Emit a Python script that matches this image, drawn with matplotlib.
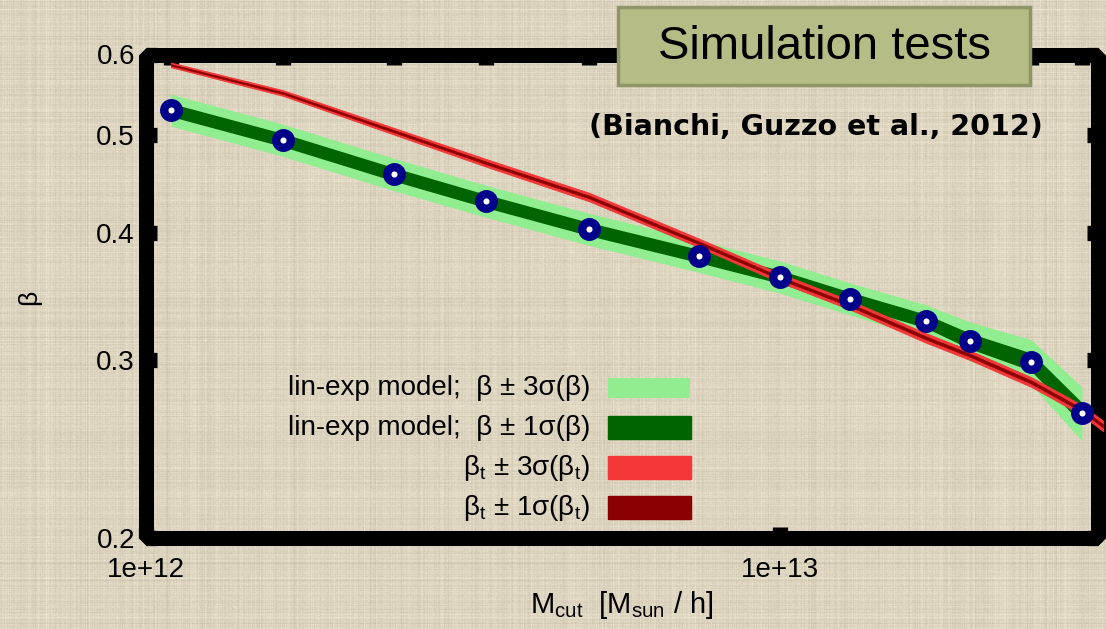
import numpy as np
import matplotlib
matplotlib.use("Agg")
import matplotlib.pyplot as plt
from matplotlib.patches import Rectangle, FancyBboxPatch
from matplotlib.ticker import FixedLocator, FixedFormatter, NullLocator

plt.rcParams['font.family'] = ['Liberation Sans', 'DejaVu Sans']
plt.rcParams['mathtext.default'] = 'regular'

# halo mass cuts [M_sun/h] and measured growth-rate parameter beta
m_cut = np.array([1.095, 1.645, 2.46, 3.44, 5.0, 7.45, 10.0, 12.9, 17.0, 19.9, 24.9, 29.9]) * 1e12
beta = np.array([0.529, 0.494, 0.457, 0.430, 0.4035, 0.3795, 0.362, 0.3444, 0.3273, 0.313, 0.2984, 0.2656])
sigma = np.array([0.0064, 0.0060, 0.0056, 0.0052, 0.0049, 0.0046, 0.0044, 0.0042, 0.0041, 0.0046, 0.0051, 0.0054])

# theoretical beta_t
m_cut_t = np.array([1.095, 1.645, 2.46, 3.44, 5.0, 7.45, 10.0, 12.9, 17.0, 19.9, 24.9, 29.9, 32.3]) * 1e12
beta_t = np.array([0.586, 0.5497, 0.504, 0.469, 0.434, 0.391, 0.361, 0.3395, 0.315, 0.303, 0.285, 0.2675, 0.258])
sigma_t = np.array([0.00102, 0.00116, 0.00126, 0.00135, 0.00138, 0.00127, 0.00120, 0.00116,
                    0.00112, 0.00108, 0.00104, 0.00101, 0.00101])

y_ticks = [0.2, 0.3, 0.4, 0.5, 0.6]
x_ticks = [1e12, 1e13]
x_labels = ['1e+12', '1e+13']

legend_labels = ['lin-exp model;  β ± 3σ(β)',
                 'lin-exp model;  β ± 1σ(β)',
                 'β$_t$ ± 3σ(β$_t$)',
                 'β$_t$ ± 1σ(β$_t$)']
legend_colors = ['#90ee90', '#006400', '#f23838', '#8b0000']

W, H = 1106, 629
fig = plt.figure(figsize=(W / 100, H / 100), dpi=100)
fig.patch.set_facecolor('#dcd3bd')

# canvas-like paper texture behind everything
rng = np.random.default_rng(3)
rows = rng.normal(0, 1, (H, 1)) * 0.5
cols = rng.normal(0, 1, (1, W)) * 0.5
grain = rng.normal(0, 1, (H, W)) * 0.35
tex = rows + cols + grain
base = np.array([221, 212, 191]) / 255.0
img = np.clip(base[None, None, :] + tex[:, :, None] * 0.028, 0, 1)
bgax = fig.add_axes([0, 0, 1, 1], zorder=-10)
bgax.imshow(img, aspect='auto', interpolation='bilinear')
bgax.axis('off')

ax = fig.add_axes([146 / W, 91 / H, 952 / W, 483.5 / H])
ax.patch.set_alpha(0)
ax.set_xscale('log')
ax.set_yscale('log')
ax.set_xlim(1e12, 3.17e13)
ax.set_ylim(0.2, 0.6)

# bands for the lin-exp model
ax.fill_between(m_cut, beta - 3 * sigma, beta + 3 * sigma, color=legend_colors[0], lw=0, zorder=3)
ax.fill_between(m_cut, beta - sigma, beta + sigma, facecolor=legend_colors[1],
                edgecolor=legend_colors[1], lw=1.8, zorder=4)

# theory band
ax.fill_between(m_cut_t, beta_t - 3 * sigma_t, beta_t + 3 * sigma_t, facecolor=legend_colors[2],
                edgecolor=legend_colors[2], lw=0.7, zorder=5, clip_on=False)
ax.fill_between(m_cut_t, beta_t - sigma_t, beta_t + sigma_t, facecolor=legend_colors[3],
                edgecolor=legend_colors[3], lw=0.4, zorder=6, clip_on=False)

ax.plot(m_cut, beta, 'o', ms=10.5, mfc='white', mec='#00008b', mew=6.0, zorder=7)

# heavy frame with bevelled corners
for s in ax.spines.values():
    s.set_visible(False)
ax.add_patch(Rectangle((0, 0), 1, 1, transform=ax.transAxes, fill=False,
                       ec='black', lw=10.8, joinstyle='bevel', clip_on=False, zorder=2.5))

ax.xaxis.set_major_locator(FixedLocator(x_ticks))
ax.xaxis.set_major_formatter(FixedFormatter(x_labels))
ax.xaxis.set_minor_locator(NullLocator())
ax.yaxis.set_major_locator(FixedLocator(y_ticks))
ax.yaxis.set_major_formatter(FixedFormatter([f'{v:.1f}' for v in y_ticks]))
ax.yaxis.set_minor_locator(NullLocator())
ax.tick_params(which='major', direction='in', length=8, width=11, color='black',
               labelsize=20, left=True, right=True, bottom=True, top=False)
ax.tick_params(axis='y', pad=8)
ax.tick_params(axis='x', pad=14)

top = ax.secondary_xaxis('top')
top.set_xticks(m_cut)
top.set_xticklabels([])
top.xaxis.set_minor_locator(NullLocator())
top.tick_params(direction='in', length=8, width=11, color='black')
for s in top.spines.values():
    s.set_visible(False)

fig.text(29 / W, 1 - 297 / H, 'β', rotation=90, fontsize=19, ha='center', va='center')
fig.text(622 / W, 1 - 605 / H, 'M$_{cut}$  [M$_{sun}$ / h]', fontsize=21, ha='center', va='center')

# legend drawn as labels and swatches
row_y = [388, 428, 468, 508]
for i, (lab, col) in enumerate(zip(legend_labels, legend_colors)):
    yc = 1 - row_y[i] / H
    fig.text(590 / W, yc, lab, fontsize=20, ha='right', va='center')
    if i == 0:
        patch = Rectangle((608 / W, yc - 10 / H), 82 / W, 20 / H, transform=fig.transFigure,
                          fc=col, ec='none')
    else:
        patch = FancyBboxPatch((610 / W, yc - 11.5 / H), 80 / W, 23 / H, transform=fig.transFigure,
                               boxstyle='round,pad=0.002', fc=col, ec='none', mutation_aspect=H / W)
    fig.patches.append(patch)

# title box over the top edge of the frame
title_box = Rectangle((618 / W, 1 - 85 / H), 412 / W, 78 / H, transform=fig.transFigure,
                      fc='#b6bc86', ec='#8f9566', lw=2.5, zorder=19)
fig.patches.append(title_box)
fig.text(824 / W, 1 - 47 / H, 'Simulation tests', fontsize=34, ha='center', va='center',
         family='Liberation Sans', zorder=20)
fig.text(816 / W, 1 - 127 / H, '(Bianchi, Guzzo et al., 2012)', fontsize=20.5, weight='bold',
         family='DejaVu Sans', ha='center', va='center')

fig.savefig('out.png', dpi=100, facecolor=fig.get_facecolor())
